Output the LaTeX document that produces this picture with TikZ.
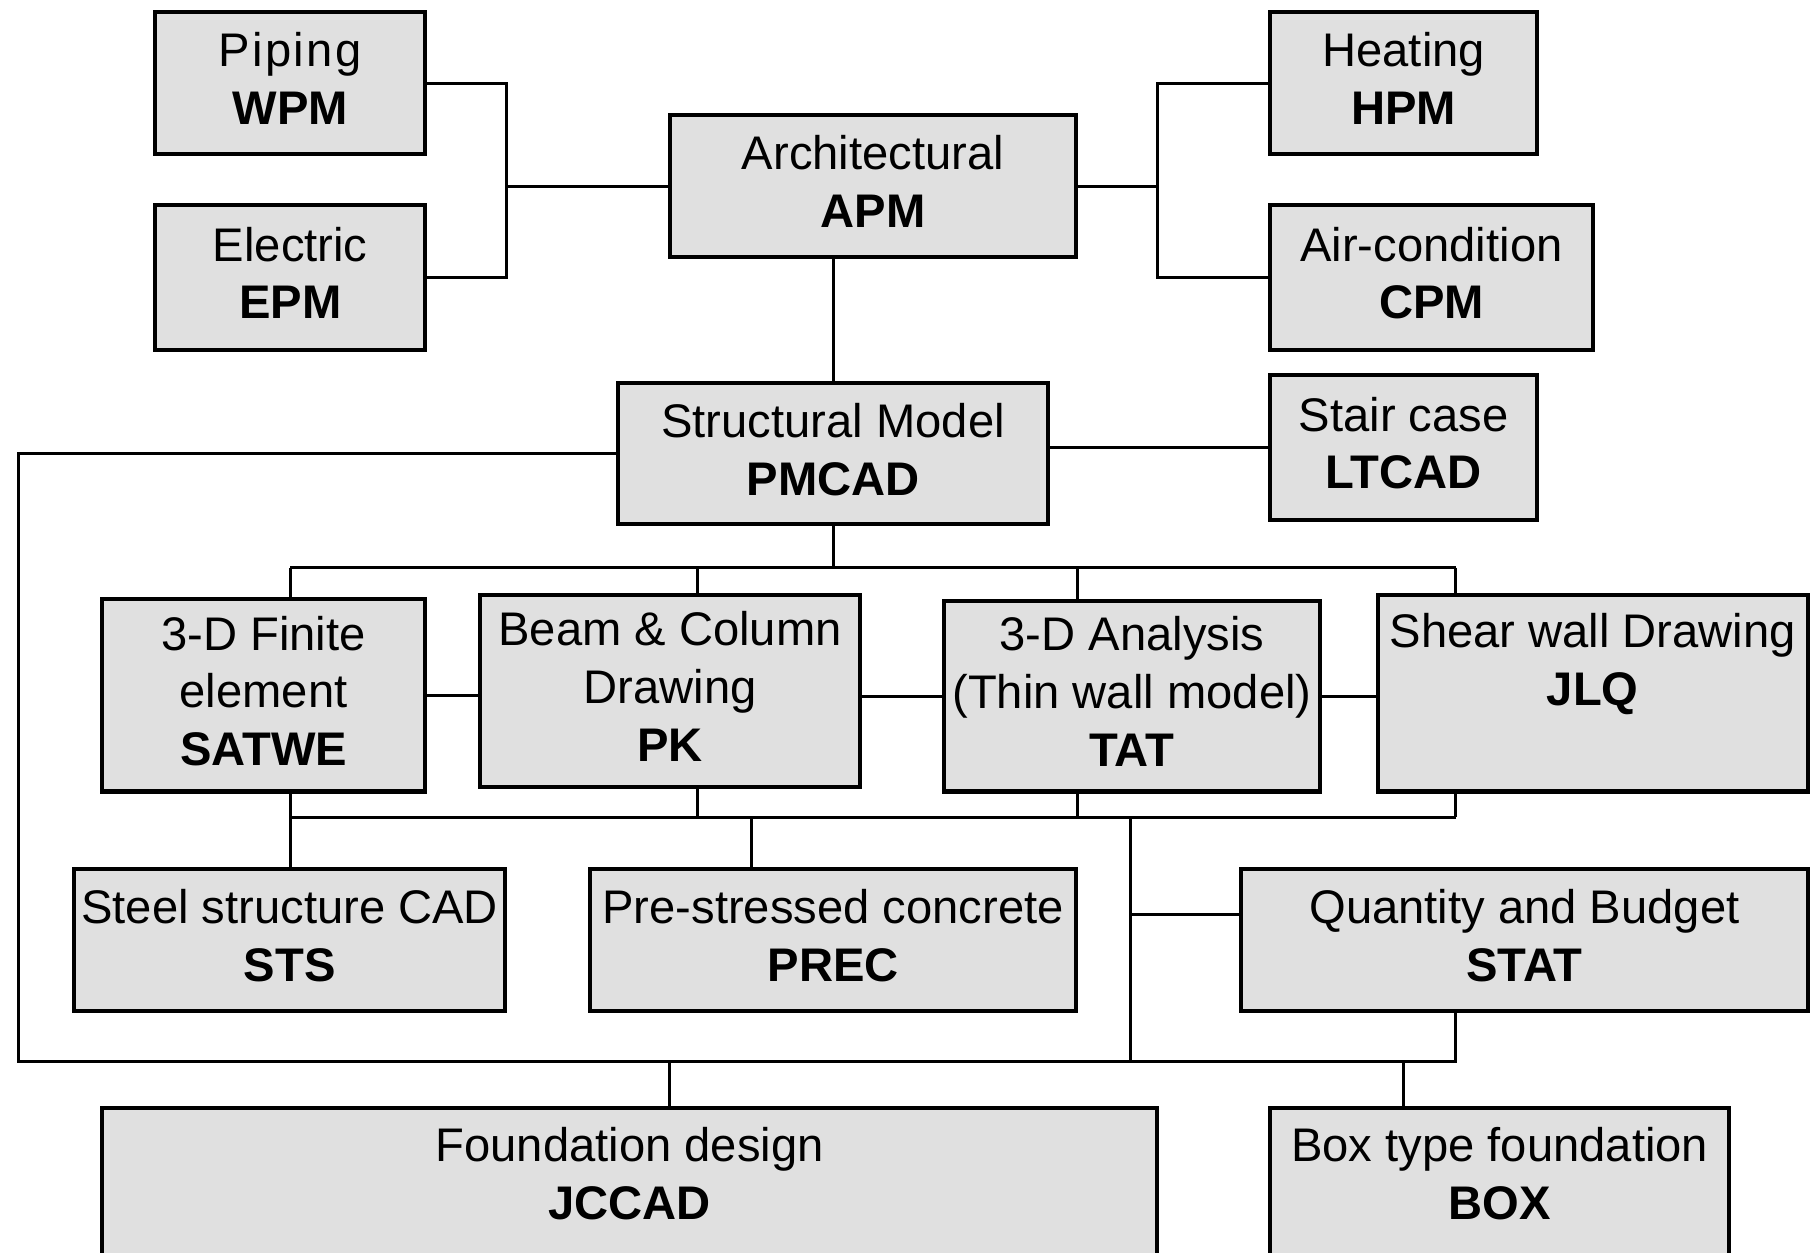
\documentclass[tikz,border=0pt]{standalone}
\usepackage{fontspec}
\setmainfont{Liberation Sans}
\definecolor{boxfill}{RGB}{224,224,224}
\begin{document}
\begin{tikzpicture}[x=0.01cm,y=-0.01cm,
  pbox/.style={draw=black, line width=1pt, fill=boxfill, align=center, inner sep=0pt,
    text depth=0.08cm, font={\fontsize{11.6}{14.2}\selectfont}},
  conn/.style={draw=black, line width=0.75pt}]
\useasboundingbox (0,0) rectangle (1568,1083);
\clip (0,0) rectangle (1568,1083);
\fill[white] (0,0) rectangle (1568,1083);

% boxes
\node[pbox, minimum width=2.33cm, minimum height=1.23cm] (wpm) at (251,72) {{\addfontfeature{LetterSpace=5}Piping}\\\textbf{WPM}};
\node[pbox, minimum width=2.33cm, minimum height=1.25cm] (epm) at (251,240) {Electric\\\textbf{EPM}};
\node[pbox, minimum width=3.51cm, minimum height=1.23cm] (apm) at (755,161) {Architectural\\\textbf{APM}};
\node[pbox, minimum width=2.31cm, minimum height=1.23cm] (hpm) at (1214,72) {Heating\\\textbf{HPM}};
\node[pbox, minimum width=2.79cm, minimum height=1.25cm] (cpm) at (1238,240) {Air-condition\\\textbf{CPM}};
\node[pbox, minimum width=3.72cm, minimum height=1.22cm] (pmcad) at (720.5,392.5) {Structural Model\\\textbf{PMCAD}};
\node[pbox, minimum width=2.31cm, minimum height=1.25cm] (ltcad) at (1214,387) {Stair case\\\textbf{LTCAD}};
\node[pbox, minimum width=2.79cm, minimum height=1.66cm] (satwe) at (228,601.5) {3-D Finite\\element\\\textbf{SATWE}};
\node[pbox, minimum width=3.28cm, minimum height=1.66cm] (pk) at (579.5,597.5) {Beam \& Column\\Drawing\\\textbf{PK}};
\node[pbox, minimum width=3.25cm, minimum height=1.65cm] (tat) at (979,602) {3-D Analysis\\(Thin wall model)\\\textbf{TAT}};
\node[pbox, minimum width=3.72cm, minimum height=1.70cm] (jlq) at (1377.5,599.5) {Shear wall Drawing\\\textbf{JLQ}\\\mbox{}};
\node[pbox, minimum width=3.72cm, minimum height=1.23cm] (sts) at (250.5,813) {Steel structure CAD\\\textbf{STS}};
\node[pbox, minimum width=4.20cm, minimum height=1.23cm] (prec) at (720.5,813) {Pre-stressed concrete\\\textbf{PREC}};
\node[pbox, minimum width=4.90cm, minimum height=1.23cm] (stat) at (1318.5,813) {Quantity and Budget\\\textbf{STAT}};
\node[pbox, minimum width=9.12cm, minimum height=1.34cm, text depth=0.2cm] (jccad) at (544.5,1025) {Foundation design\\\textbf{JCCAD}};
\node[pbox, minimum width=3.97cm, minimum height=1.34cm, text depth=0.2cm] (bx) at (1297,1025) {Box type foundation\\\textbf{BOX}};

% junction coordinates
\coordinate (jL) at (438,161);
\coordinate (jR) at (1001,161);
\coordinate (tbA) at (251,491);
\coordinate (tbB) at (603,491);
\coordinate (tbC) at (932,491);
\coordinate (tbD) at (1259,491);
\coordinate (bbA) at (251,707);
\coordinate (bbB) at (603,707);
\coordinate (bbC) at (932,707);
\coordinate (bbD) at (1259,707);
\coordinate (bbP) at (650,707);
\coordinate (bbQ) at (978,707);
\coordinate (qs) at (978,791);
\coordinate (lpL) at (16,918);
\coordinate (lpQ) at (978,918);
\coordinate (lpR) at (1259,918);
\coordinate (lpJ) at (579,918);
\coordinate (lpB) at (1214,918);

% connectors
\draw[conn] (wpm.east) -| (jL) |- (epm.east);
\draw[conn] (jL) -- (apm.west);
\draw[conn] (hpm.west) -| (jR) |- (cpm.west);
\draw[conn] (apm.east) -- (jR);
\draw[conn] (apm.south -| pmcad.north) -- (pmcad.north);
\draw[conn] (ltcad.west) -- (ltcad.west -| pmcad.east);
\draw[conn] (pmcad.west) -| (lpL) -- (lpR) -- (lpR |- stat.south);
\draw[conn] (pmcad.south) -- (pmcad.south |- tbA);
\draw[conn] (tbA) -- (tbD);
\draw[conn] (tbA) -- (tbA |- satwe.north);
\draw[conn] (tbB) -- (tbB |- pk.north);
\draw[conn] (tbC) -- (tbC |- tat.north);
\draw[conn] (tbD) -- (tbD |- jlq.north);
\draw[conn] (satwe.east) -- (satwe.east -| pk.west);
\draw[conn] (tat.west) -- (tat.west -| pk.east);
\draw[conn] (tat.east) -- (tat.east -| jlq.west);
\draw[conn] (bbA) -- (bbD);
\draw[conn] (bbA |- satwe.south) -- (bbA |- sts.north);
\draw[conn] (bbB |- pk.south) -- (bbB);
\draw[conn] (bbC |- tat.south) -- (bbC);
\draw[conn] (bbD |- jlq.south) -- (bbD);
\draw[conn] (bbP) -- (bbP |- prec.north);
\draw[conn] (bbQ) -- (lpQ);
\draw[conn] (qs) -- (qs -| stat.west);
\draw[conn] (lpJ) -- (lpJ |- jccad.north);
\draw[conn] (lpB) -- (lpB |- bx.north);
\end{tikzpicture}
\end{document}
